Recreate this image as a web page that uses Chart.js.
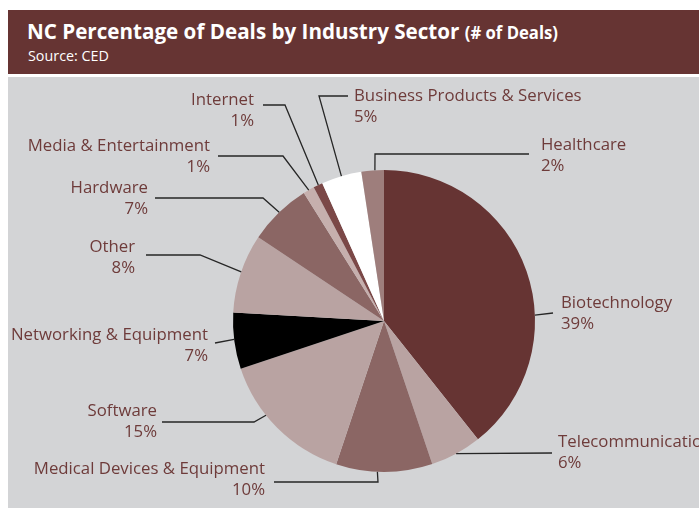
<!DOCTYPE html>
<html>
<head>
<meta charset="utf-8">
<script src="https://cdn.jsdelivr.net/npm/chart.js@4.4.1/dist/chart.umd.min.js"></script>
<style>
  body { margin: 0; background: #fff; width: 699px; height: 508px; overflow: hidden; position: relative; font-family: "Open Sans", sans-serif; }
  #header { position: absolute; left: 8px; top: 10px; width: 691px; height: 64px; background: #663433; color: #fff; overflow: hidden; }
  #title { position: absolute; left: 19px; top: 11px; white-space: nowrap; font-weight: 700; font-size: 21px; line-height: 21px; transform-origin: 0 0; }
  #title small { font-size: 17px; }
  #source { position: absolute; left: 20px; top: 38px; white-space: nowrap; font-size: 15px; line-height: 15px; transform-origin: 0 0; }
  #panel { position: absolute; left: 8px; top: 77px; width: 691px; height: 431px; background: #d3d4d6; }
</style>
</head>
<body>
<div id="header">
  <div id="title">NC Percentage of Deals by Industry Sector <small>(# of Deals)</small></div>
  <div id="source">Source: CED</div>
</div>
<div id="panel"><canvas id="pieChart" width="691" height="431"></canvas></div>
<script>
// --- data ---
const categories = [
  "Biotechnology", "Telecommunications", "Medical Devices & Equipment", "Software",
  "Networking & Equipment", "Other", "Hardware", "Media & Entertainment",
  "Internet", "Business Products & Services", "Healthcare"
];
const dealShares = [39.3, 5.5, 10.3, 14.75, 6.0, 8.45, 6.75, 1.2, 1.0, 4.3, 2.4];
const percentLabels = ["39%", "6%", "10%", "15%", "7%", "8%", "7%", "1%", "1%", "5%", "2%"];

const sliceColors = [
  "#663433", "#b9a3a2", "#8b6664", "#b9a3a2", "#000000", "#b9a3a2",
  "#8b6664", "#c6afad", "#7b4847", "#ffffff", "#9e7e7c"
];

// label placement in page coordinates (panel offset subtracted when drawing)
const panelLeft = 8, panelTop = 77;
const labelLayout = [
  { align: "left",  x: 561, y: 303, t: 0.62, path: [[553, 313]] },
  { align: "left",  x: 558, y: 442, t: 0.5,  path: [[552, 453]] },
  { align: "right", x: 265, y: 469, t: 0.57, path: [[378, 482], [274, 482]] },
  { align: "right", x: 157, y: 411, t: 0.62, path: [[254, 422], [162, 422]] },
  { align: "right", x: 208, y: 335, t: 0.53, path: [[215, 343]] },
  { align: "right", x: 135, y: 247, t: 0.52, path: [[200, 255], [146, 255]] },
  { align: "right", x: 148, y: 188, t: 0.51, path: [[263, 198], [155, 198]] },
  { align: "right", x: 210, y: 146, t: 0.5,  path: [[283, 156], [218, 156]] },
  { align: "right", x: 254, y: 100, t: 0.54, path: [[285, 105], [263, 105]] },
  { align: "left",  x: 354, y: 96,  t: 0.5,  path: [[319, 96], [348, 96]] },
  { align: "left",  x: 541, y: 145, t: 0.6,  path: [[375, 154], [529, 154]] }
];

// squeeze header text to the condensed width of the original
function fitWidth(id, target) {
  const el = document.getElementById(id);
  const w = el.getBoundingClientRect().width;
  if (w > 0) el.style.transform = "scaleX(" + (target / w) + ")";
}
fitWidth("title", 531);
fitWidth("source", 81);

const leaderLabels = {
  id: "leaderLabels",
  afterDatasetsDraw(chart) {
    const ctx = chart.ctx;
    const arcs = chart.getDatasetMeta(0).data;
    ctx.save();
    ctx.strokeStyle = "#262626";
    ctx.lineWidth = 1.3;
    arcs.forEach((arc, i) => {
      const lay = labelLayout[i];
      const p = arc.getProps(["x", "y", "startAngle", "endAngle", "outerRadius"], true);
      const a = p.startAngle + lay.t * (p.endAngle - p.startAngle);
      ctx.beginPath();
      ctx.moveTo(p.x + p.outerRadius * Math.cos(a), p.y + p.outerRadius * Math.sin(a));
      lay.path.forEach(pt => ctx.lineTo(pt[0] - panelLeft, pt[1] - panelTop));
      ctx.stroke();

      ctx.fillStyle = "#6e3b3a";
      ctx.font = "16.8px 'Open Sans'";
      ctx.textBaseline = "middle";
      ctx.textAlign = lay.align;
      ctx.fillText(categories[i], lay.x - panelLeft, lay.y - panelTop);
      ctx.fillText(percentLabels[i], lay.x - panelLeft, lay.y + 21 - panelTop);
    });
    ctx.restore();
  }
};

new Chart(document.getElementById("pieChart"), {
  type: "pie",
  data: {
    labels: categories,
    datasets: [{
      data: dealShares,
      backgroundColor: sliceColors,
      borderWidth: 0
    }]
  },
  options: {
    responsive: false,
    animation: false,
    layout: { padding: { left: 225, right: 164, top: 93, bottom: 36 } },
    plugins: {
      legend: { display: false },
      tooltip: { enabled: false }
    }
  },
  plugins: [leaderLabels]
});
</script>
</body>
</html>
